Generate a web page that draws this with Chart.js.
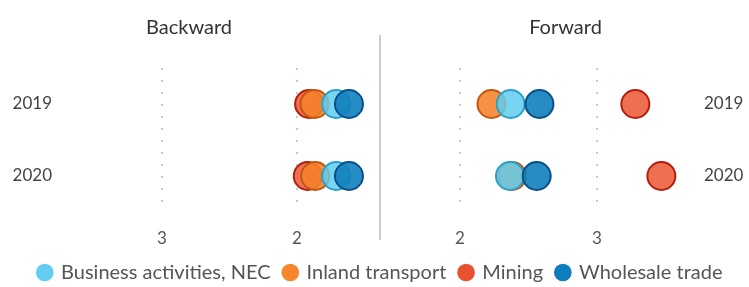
<!DOCTYPE html>
<html>
<head>
<meta charset="utf-8">
<script src="https://cdn.jsdelivr.net/npm/chart.js@4/dist/chart.umd.min.js"></script>
<style>
  html, body { margin: 0; padding: 0; background: #fff; overflow: hidden; }
  #wrap { position: relative; width: 749px; height: 287px; overflow: hidden; }
  #wrap canvas { position: absolute; }
</style>
</head>
<body>
<div id="wrap">
  <canvas id="backward-canvas" width="381" height="250" style="left:0;top:0"></canvas>
  <canvas id="forward-canvas" width="368" height="250" style="left:381px;top:0"></canvas>
  <canvas id="legend-canvas" width="749" height="100" style="left:0;top:249px"></canvas>
</div>
<script>
// datos
const years = ['2019', '2020'];
const sectors = ['Business activities, NEC', 'Inland transport', 'Mining', 'Wholesale trade'];
const xTicks = [2, 3];

// Backward (eje invertido)
const backwardBusiness = [1.71, 1.71];
const backwardInland = [1.87, 1.865];
const backwardMining = [1.91, 1.92];
const backwardWholesale = [1.615, 1.615];

// Forward
const forwardBusiness = [2.37, 2.365];
const forwardInland = [2.23, 2.38];
const forwardMining = [3.28, 3.47];
const forwardWholesale = [2.58, 2.56];

const legendColors = ['#62cdf0', '#f5862c', '#e8522f', '#0e7dbe'];
const fillColors = ['rgba(96,204,238,0.85)', 'rgba(245,130,42,0.88)', 'rgba(236,96,64,0.9)', 'rgba(16,128,190,0.9)'];
const borderColors = ['#2ba1c6', '#c4560f', '#b41e0a', '#0b4f8a'];
const drawOrder = [1, 2, 3, 0]; // wholesale arriba

const FONT = 'Lato, "Open Sans", sans-serif';

function toPoints(values) {
    return values.map((v, i) => ({ x: v, y: years[i] }));
}

function makeDatasets(seriesList) {
    return seriesList.map((values, i) => ({
        label: sectors[i],
        data: toPoints(values),
        backgroundColor: fillColors[i],
        borderColor: borderColors[i],
        borderWidth: 2,
        pointRadius: 14,
        pointHoverRadius: 14,
        order: drawOrder[i]
    }));
}

const dividerPlugin = {
    id: 'divider',
    afterDraw(chart) {
        const c = chart.ctx;
        c.save();
        c.strokeStyle = '#cccccc';
        c.lineWidth = 2;
        c.beginPath();
        c.moveTo(380, 35);
        c.lineTo(380, 240);
        c.stroke();
        c.restore();
    }
};

function makePanel(canvasId, title, seriesList, reverse, min, max, yPosition, yWidth, yPad, padding, plugins) {
    return new Chart(document.getElementById(canvasId).getContext('2d'), {
        type: 'scatter',
        data: { datasets: makeDatasets(seriesList) },
        plugins: plugins,
        options: {
            responsive: false,
            animation: false,
            layout: { padding: padding, autoPadding: false },
            plugins: {
                legend: { display: false },
                tooltip: { enabled: false },
                title: {
                    display: true,
                    text: title,
                    color: '#333',
                    font: { family: FONT, size: 20, weight: 'normal', lineHeight: 1.2 },
                    padding: { top: 16, bottom: 28 }
                }
            },
            scales: {
                x: {
                    type: 'linear',
                    reverse: reverse,
                    min: min,
                    max: max,
                    afterBuildTicks: scale => { scale.ticks = xTicks.map(v => ({ value: v })); },
                    afterFit: scale => { scale.height = 38; },
                    ticks: {
                        color: '#555',
                        padding: 16,
                        font: { family: FONT, size: 17 }
                    },
                    grid: { color: '#c8c8c8', lineWidth: 2, drawTicks: false },
                    border: { display: false, dash: [2, 10] }
                },
                y: {
                    type: 'category',
                    labels: years,
                    offset: true,
                    position: yPosition,
                    afterFit: scale => { scale.width = yWidth; },
                    ticks: {
                        color: '#444',
                        padding: yPad,
                        font: { family: FONT, size: 17 }
                    },
                    grid: { display: false, drawTicks: false },
                    border: { display: false }
                }
            }
        }
    });
}

makePanel('backward-canvas', 'Backward',
    [backwardBusiness, backwardInland, backwardMining, backwardWholesale],
    true, 1.4, 3.68, 'left', 70, 18, { left: 0, right: 3, top: 0, bottom: 0 }, [dividerPlugin]);

makePanel('forward-canvas', 'Forward',
    [forwardBusiness, forwardInland, forwardMining, forwardWholesale],
    false, 1.431, 3.679, 'right', 59, 14, { left: 1, right: 0, top: 0, bottom: 0 }, []);

// leyenda compartida
new Chart(document.getElementById('legend-canvas').getContext('2d'), {
    type: 'scatter',
    data: {
        datasets: sectors.map((s, i) => ({
            label: s,
            data: [],
            backgroundColor: legendColors[i],
            borderColor: legendColors[i],
            borderWidth: 0
        }))
    },
    options: {
        responsive: false,
        animation: false,
        layout: { padding: { left: 12, right: 0, top: 0, bottom: 0 }, autoPadding: false },
        plugins: {
            tooltip: { enabled: false },
            legend: {
                display: true,
                position: 'top',
                labels: {
                    usePointStyle: true,
                    pointStyle: 'circle',
                    boxWidth: 12.5,
                    boxHeight: 12.5,
                    padding: 13.5,
                    color: '#555',
                    font: { family: FONT, size: 20 }
                }
            }
        },
        scales: { x: { display: false }, y: { display: false } }
    }
});
</script>
</body>
</html>
